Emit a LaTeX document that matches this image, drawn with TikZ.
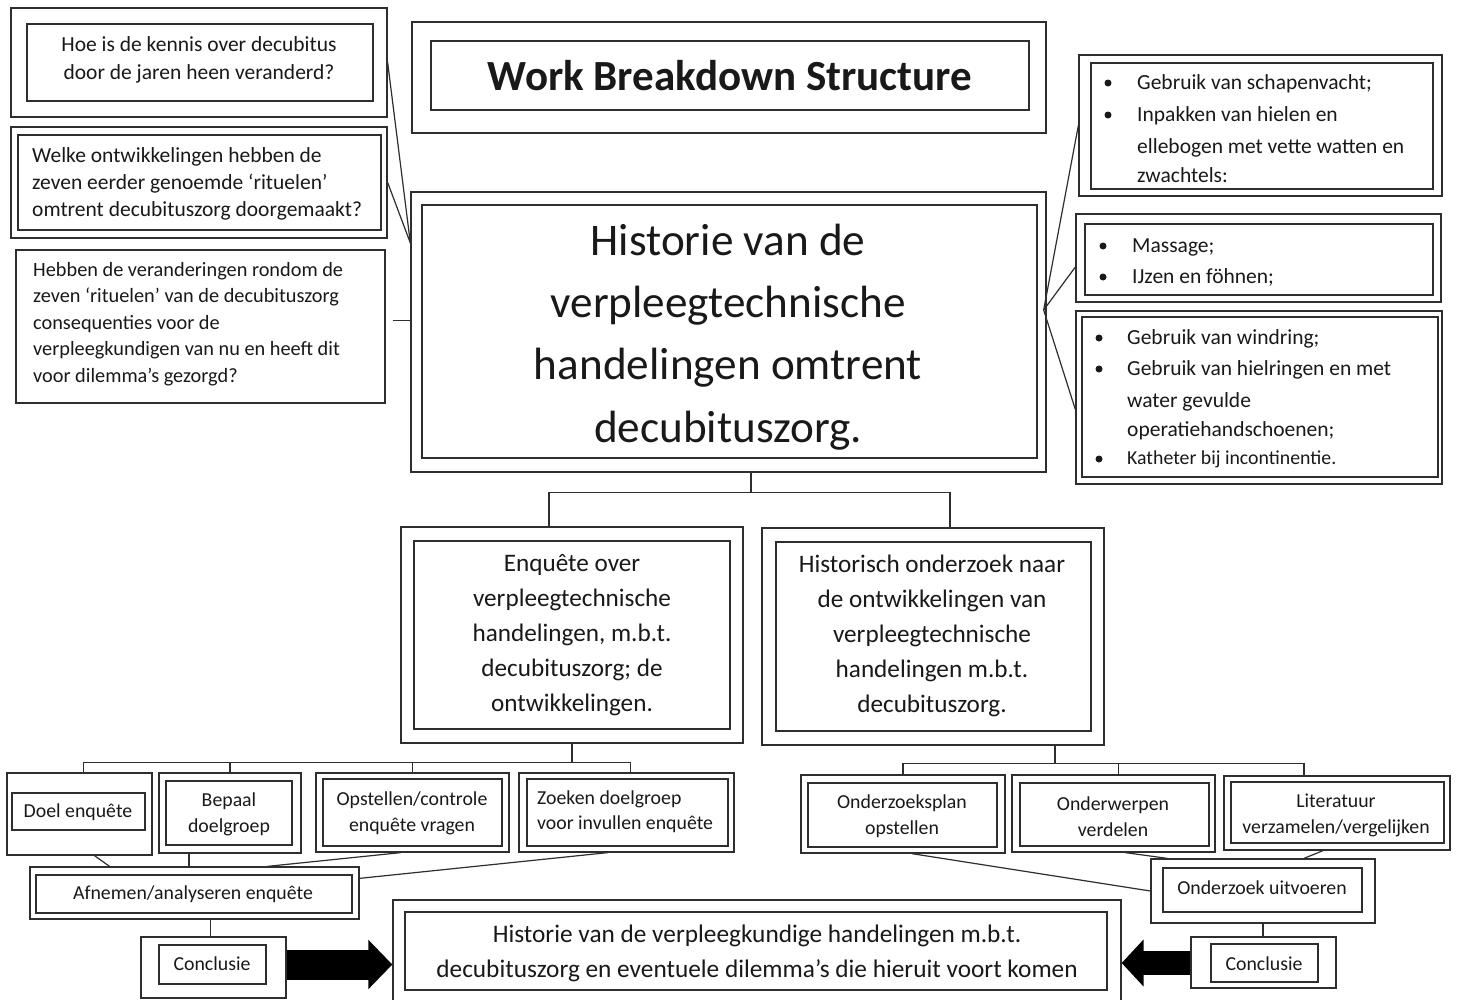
\documentclass[tikz,border=0pt]{standalone}
\usepackage{fontspec}
\setmainfont{Carlito}
\usetikzlibrary{fit,calc,arrows.meta}
\definecolor{ln}{HTML}{2E2E2E}
\newcommand{\fsz}[2]{\fontsize{#1}{#2}\selectfont}
\begin{document}
\begin{tikzpicture}[x=1pt,y=-1pt,
  bx/.style={draw=ln, line width=1.3pt, inner sep=0pt, fit={#1}},
  con/.style={draw=ln, line width=1.2pt},
  tx/.style={inner sep=0pt, text=black!90, align=center},
  itm/.style={inner sep=0pt, anchor=base west, text=black!90, font=\fsz{21.5}{31}},
  bul/.style={circle, fill=black!90, inner sep=0pt, minimum size=7pt},
  bigarrow/.style={draw=black, line width=#1, -{Triangle[length=24pt,width=48pt]}}
]
\useasboundingbox (0,0) rectangle (1459,999);
\fill[white] (0,0) rectangle (1459,999);

% ---------- left questions ----------
\node[bx={(11,8) (387,117)}] (q1o) {};
\node[bx={(27,24) (373,101)}] (q1i) {};
\node[tx, font=\fsz{21.5}{28}] (q1t) at (199,60) {Hoe is de kennis over decubitus\\door de jaren heen veranderd?};

\node[bx={(11,127) (387,238)}] (q2o) {};
\node[bx={(18,135) (381,230)}] (q2i) {};
\node[tx, align=left, anchor=west, font=\fsz{21.5}{27}] (q2t) at (32,184) {Welke ontwikkelingen hebben de\\zeven eerder genoemde ‘rituelen’\\omtrent decubituszorg doorgemaakt?};

\node[bx={(16,250) (385,403)}] (q3) {};
\node[tx, align=left, anchor=west, font=\fsz{20.3}{26.5}] (q3t) at (33,324) {Hebben de veranderingen rondom de\\zeven ‘rituelen’ van de decubituszorg\\consequenties voor de\\verpleegkundigen van nu en heeft dit\\voor dilemma’s gezorgd?};

% ---------- title ----------
\node[bx={(412,22) (1046,133)}] (tto) {};
\node[bx={(431,41) (1029,110)}] (tti) {};
\node[tx, font=\bfseries\fsz{43}{48}] (ttt) at (730,76) {Work Breakdown Structure};

% ---------- main ----------
\node[bx={(411,192) (1046,472)}] (mo) {};
\node[bx={(422,205) (1037,458)}] (mi) {};
\node[tx, font=\fsz{45.2}{62.3}] (mt) at (728,337) {Historie van de\\verpleegtechnische\\handelingen omtrent\\decubituszorg.};

% ---------- right bullet boxes ----------
\node[bx={(1079,55) (1442,196)}] (r1o) {};
\node[bx={(1091,63) (1433,189)}] (r1i) {};
\node[bul] (b11) at (1108,83) {};
\node[itm] (i11) at (1137,89) {Gebruik van schapenvacht;};
\node[bul] (b12) at (1108,115) {};
\node[itm] (i12a) at (1137,121) {Inpakken van hielen en};
\node[itm] (i12b) at (1137,153) {ellebogen met vette watten en};
\node[itm] (i12c) at (1137,182) {zwachtels:};

\node[bx={(1076,214) (1441,302)}] (r2o) {};
\node[bx={(1085,224) (1433,295)}] (r2i) {};
\node[bul] (b21) at (1103,246) {};
\node[itm] (i21) at (1132,252) {Massage;};
\node[bul] (b22) at (1103,277) {};
\node[itm] (i22) at (1132,283) {IJzen en föhnen;};

\node[bx={(1076,311) (1442,484)}] (r3o) {};
\node[bx={(1082,317) (1438,477)}] (r3i) {};
\node[bul] (b31) at (1099,338) {};
\node[itm] (i31) at (1127,344) {Gebruik van windring;};
\node[bul] (b32) at (1099,369) {};
\node[itm] (i32a) at (1127,375) {Gebruik van hielringen en met};
\node[itm] (i32b) at (1127,407) {water gevulde};
\node[itm] (i32c) at (1127,436) {operatiehandschoenen;};
\node[bul] (b33) at (1099,459) {};
\node[itm, font=\fsz{19.8}{22}] (i33) at (1127,464) {Katheter bij incontinentie.};

% ---------- second level ----------
\node[bx={(401,527) (743,743)}] (enqo) {};
\node[bx={(414,541) (730,729)}] (enqi) {};
\node[tx, font=\fsz{25.2}{35}] (enqt) at (572,635) {Enquête over\\verpleegtechnische\\handelingen, m.b.t.\\decubituszorg; de\\ontwikkelingen.};

\node[bx={(762,528) (1104,745)}] (hiso) {};
\node[bx={(776,542) (1091,731)}] (hisi) {};
\node[tx, font=\fsz{25.2}{35}] (hist) at (932,636) {Historisch onderzoek naar\\de ontwikkelingen van\\verpleegtechnische\\handelingen m.b.t.\\decubituszorg.};

% ---------- enquete subtasks ----------
\node[bx={(7,773) (152,855)}] (doelo) {};
\node[bx={(12,793) (145,830)}] (doeli) {};
\node[tx, font=\fsz{19.8}{26}] (doelt) at (78,812) {Doel enquête};

\node[bx={(159,773) (301,853)}] (bepo) {};
\node[bx={(166,781) (292,845)}] (bepi) {};
\node[tx, font=\fsz{19.8}{26}] (bept) at (229,814) {Bepaal\\doelgroep};

\node[bx={(316,773) (509,852)}] (opso) {};
\node[bx={(323,779) (502,846)}] (opsi) {};
\node[tx, font=\fsz{19.8}{26}] (opst) at (412,813) {Opstellen/controle\\enquête vragen};

\node[bx={(519,773) (734,852)}] (zoeko) {};
\node[bx={(527,779) (728,846)}] (zoeki) {};
\node[tx, align=left, anchor=west, font=\fsz{19.8}{25}] (zoekt) at (537,812) {Zoeken doelgroep\\voor invullen enquête};

\node[bx={(30,867) (359,919)}] (afno) {};
\node[bx={(36,875) (352,913)}] (afni) {};
\node[tx, font=\fsz{19.8}{26}] (afnt) at (193,894) {Afnemen/analyseren enquête};

\node[bx={(141,937) (286,998)}] (clo) {};
\node[bx={(159,945) (266,984)}] (cli) {};
\node[tx, font=\fsz{19.8}{26}] (clt) at (212,964) {Conclusie};

% ---------- historisch subtasks ----------
\node[bx={(801,775) (1005,853)}] (ondo) {};
\node[bx={(808,783) (997,847)}] (ondi) {};
\node[tx, font=\fsz{19.8}{26}] (ondt) at (902,816) {Onderzoeksplan\\opstellen};

\node[bx={(1012,775) (1215,852)}] (owpo) {};
\node[bx={(1020,783) (1209,846)}] (owpi) {};
\node[tx, font=\fsz{19.8}{26}] (owpt) at (1113,817) {Onderwerpen\\verdelen};

\node[bx={(1224,776) (1450,850)}] (lito) {};
\node[bx={(1231,782) (1444,843)}] (liti) {};
\node[tx, font=\fsz{19.8}{26}] (litt) at (1336,815) {Literatuur\\verzamelen/vergelijken};

\node[bx={(1151,859) (1375,923)}] (uito) {};
\node[bx={(1163,868) (1362,912)}] (uiti) {};
\node[tx, font=\fsz{19.8}{26}] (uitt) at (1262,888) {Onderzoek uitvoeren};

\node[bx={(1191,937) (1336,988)}] (cro) {};
\node[bx={(1211,944) (1318,982)}] (cri) {};
\node[tx, font=\fsz{19.8}{26}] (crt) at (1264,964) {Conclusie};

% ---------- bottom result ----------
\node[bx={(393,900) (1121,1004)}] (boto) {};
\node[bx={(405,912) (1107,990)}] (boti) {};
\node[tx, font=\fsz{25.3}{35}] (bott) at (757,953) {Historie van de verpleegkundige handelingen m.b.t.\\decubituszorg en eventuele dilemma’s die hieruit voort komen};

% ---------- connectors ----------
\coordinate (lj) at ([yshift=89]mo.west);
\draw[con] (q1o.east) -- (lj);
\draw[con] (q2o.east) -- (lj);
\coordinate (q3a) at ([shift={(7,-6)}]q3.east);
\draw[con] (q3a) -- (q3a -| mo.west);
\coordinate (rj) at ([shift={(-3,-22)}]mo.east);
\draw[con] (rj) -- (r1o.west);
\draw[con] (rj) -- ([yshift=-9]r2o.west);
\draw[con] (rj) -- ([yshift=-12]r3o.west);

\draw[con] ([xshift=22.5]mo.south) -- ++(0,20) coordinate (m1);
\draw[con] ([xshift=-23]enqo.north) |- (m1) -| ([xshift=17]hiso.north);

\draw[con] (enqo.south) -- ++(0,19) coordinate (e1);
\draw[con] ([xshift=4]doelo.north) |- (e1) -| ([xshift=4]zoeko.north);
\draw[con] (bepo.north) -- (bepo.north |- e1);
\draw[con] (opso.north) -- (opso.north |- e1);

\draw[con] ([xshift=122]hiso.south) -- ++(0,18) coordinate (h1);
\draw[con] (ondo.north) |- (h1) -| ([xshift=-33]lito.north);
\draw[con] ([xshift=5]owpo.north) -- ([xshift=5]owpo.north |- h1);

\draw[con] ([xshift=15]doelo.south) -- ([xshift=-85]afno.north);
\draw[con] ([xshift=-41]bepo.south) -- ([xshift=-41]bepo.south |- afno.north);
\draw[con] ([xshift=-12]opso.south) -- ([xshift=73]afno.north);
\draw[con] ([xshift=-19]zoeko.south) -- ([yshift=-12]afno.north east);
\draw[con] ([xshift=16]afno.south) -- ([xshift=16]afno.south |- clo.north);

\draw[con] ([xshift=9]ondo.south) -- (uito.west);
\draw[con] ([xshift=12]owpo.south) -- ([xshift=17]uito.north west);
\draw[con] ([xshift=-14]lito.south) -- ([xshift=41]uito.north);
\draw[con] (uito.south) -- (uito.south |- cro.north);

\draw[bigarrow=30pt] (clo.east |- cli.center) -- (boto.west |- cli.center);
\draw[draw=black, line width=24pt, -{Triangle[length=22pt,width=46pt]}] (cro.west |- cri.center) -- (boto.east |- cri.center);
\end{tikzpicture}
\end{document}
